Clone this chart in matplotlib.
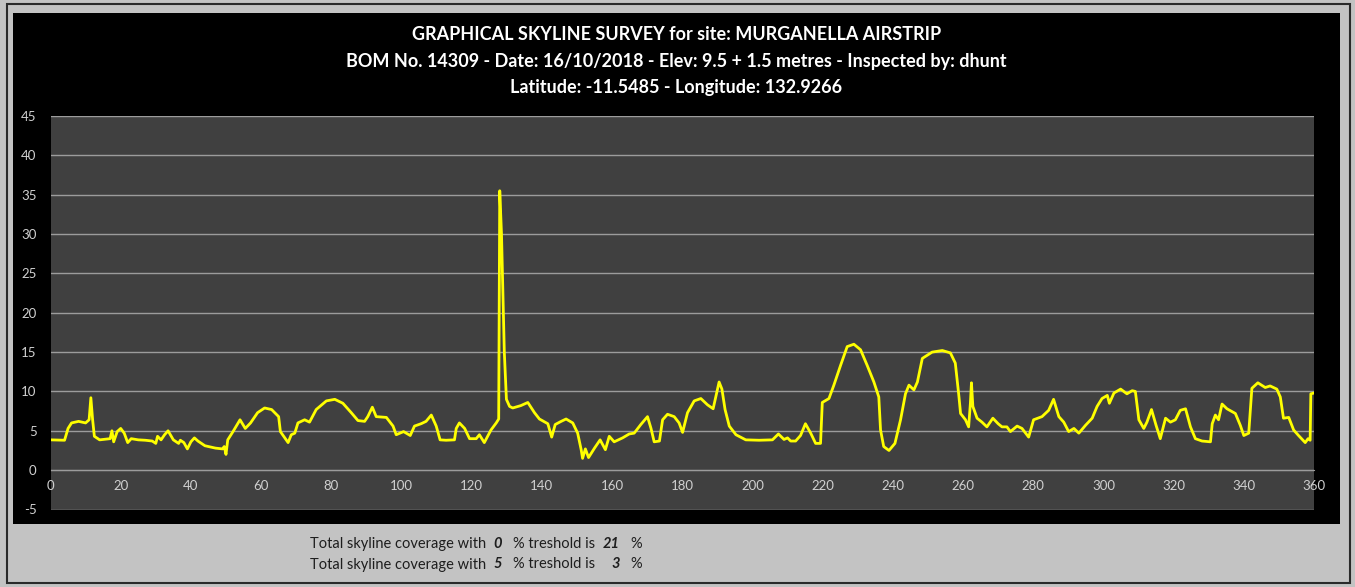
import matplotlib
matplotlib.use('Agg')
import matplotlib.pyplot as plt
from matplotlib.patches import Rectangle

plt.rcParams['font.family'] = ['Lato', 'DejaVu Sans']
plt.rcParams['axes.unicode_minus'] = False

# skyline survey: azimuth (deg) vs elevation (deg)
azimuth = [0, 4, 5, 6, 8, 10, 11, 11.5, 12, 12.5, 14, 17, 17.5, 18, 19, 20, 21, 22, 23, 25,
           27, 29, 30, 30.5, 31.5, 32.5, 33.5, 35, 36.5, 37, 38, 39, 40, 41, 42, 44, 47, 49, 49.5, 50,
           50.5, 52, 54, 55.5, 57, 59, 61, 63, 65, 65.5, 67.7, 68.6, 69.6, 70.5, 72.4, 73.8, 75.7, 78.6, 81, 83.3,
           85.7, 87.6, 89.5, 90.4, 91.7, 92.8, 95.7, 97.6, 98.5, 100.6, 102.5, 103.7, 105.6, 107, 108.5, 109.9, 111, 112.7, 115.1, 115.6,
           116.5, 118, 119.4, 121.3, 122.2, 123.6, 125.5, 127, 127.7, 128, 128.5, 129.3, 129.9, 130.8, 131.7, 134, 136, 137.9, 139.3, 141.7,
           142.8, 143.8, 145.5, 146.9, 148.8, 150.2, 151.2, 151.6, 152.4, 153.3, 155, 156.6, 158.1, 159.2, 160.6, 163, 164.9, 166.3, 168.2, 170.1,
           171.1, 172, 173.5, 174.4, 175.8, 177.7, 179.1, 180.1, 181.5, 183.4, 185.3, 187.2, 188.8, 189.6, 190.5, 191.3, 192.2, 193.4, 195.3, 198.1,
           201.9, 205.7, 207.4, 209, 210, 210.9, 212.3, 213.7, 215.1, 216.6, 218, 219.4, 219.9, 221.8, 223.2, 225.1, 227, 228.9, 230.8, 232.7,
           234.6, 236, 236.5, 237.4, 238.9, 240.6, 242.2, 243.6, 244.6, 246, 247, 248.4, 251.2, 254.1, 256.4, 257.8, 258.8, 259.3, 260.7, 261.6,
           262.1, 262.4, 262.8, 264, 265.4, 266.8, 268.5, 270, 271.1, 272.5, 273.5, 275.4, 276.8, 278.7, 280.1, 282.5, 284.4, 285.8, 287.3, 288.7,
           290.1, 291.6, 293, 294.9, 296.8, 298.2, 299.6, 301.1, 301.7, 303, 304.9, 306.7, 308.2, 309.1, 310.1, 311.5, 312.4, 313.7, 315, 316.2,
           317.7, 319.1, 320.5, 321.9, 323.4, 324.8, 326.2, 328.1, 330.5, 331, 331.9, 332.8, 333.8, 335.2, 337.6, 339, 340, 341.4, 342.3, 344,
           346.1, 347.5, 349.4, 350.4, 351.3, 352.8, 354.2, 355.6, 357.5, 358.3, 358.9, 359.1, 360]
elevation = [3.85, 3.8, 5.3, 6.0, 6.2, 6.0, 6.4, 9.2, 6.4, 4.3, 3.85, 4.0, 5.0, 3.6, 4.9, 5.3, 4.7, 3.5, 4.0, 3.85,
             3.8, 3.7, 3.4, 4.3, 3.85, 4.5, 5.0, 3.85, 3.4, 3.8, 3.5, 2.7, 3.6, 4.1, 3.7, 3.1, 2.8, 2.7, 3.0, 2.0,
             3.85, 4.9, 6.4, 5.3, 6.0, 7.3, 7.9, 7.7, 6.8, 4.9, 3.5, 4.5, 4.7, 6.0, 6.4, 6.1, 7.7, 8.8, 9.0, 8.5,
             7.3, 6.3, 6.2, 6.8, 8.0, 6.8, 6.7, 5.6, 4.5, 4.9, 4.4, 5.6, 5.9, 6.2, 7.0, 5.6, 3.85, 3.8, 3.85, 5.3,
             6.0, 5.3, 4.0, 4.0, 4.5, 3.5, 5.1, 6.0, 6.5, 35.5, 30.0, 15.0, 9.0, 8.1, 7.9, 8.2, 8.6, 7.3, 6.5, 5.9,
             4.2, 5.8, 6.2, 6.5, 6.0, 4.7, 2.6, 1.5, 2.7, 1.6, 2.8, 3.85, 2.6, 4.3, 3.6, 4.1, 4.6, 4.7, 5.8, 6.8,
             5.3, 3.6, 3.7, 6.4, 7.1, 6.8, 6.0, 4.8, 7.3, 8.8, 9.1, 8.3, 7.8, 9.4, 11.2, 10.3, 7.7, 5.6, 4.5, 3.85,
             3.8, 3.85, 4.6, 3.9, 4.1, 3.7, 3.7, 4.4, 5.9, 4.7, 3.4, 3.4, 8.6, 9.1, 10.8, 13.3, 15.7, 16.0, 15.3, 13.3,
             11.2, 9.3, 5.1, 3.0, 2.5, 3.4, 6.4, 9.7, 10.8, 10.2, 11.2, 14.2, 15.0, 15.2, 14.9, 13.6, 9.5, 7.2, 6.4, 5.5,
             8.5, 11.1, 8.1, 6.6, 6.1, 5.5, 6.6, 5.9, 5.5, 5.5, 4.9, 5.6, 5.3, 4.2, 6.4, 6.8, 7.6, 9.0, 6.8, 6.1,
             4.9, 5.3, 4.7, 5.7, 6.6, 8.1, 9.1, 9.5, 8.5, 9.8, 10.3, 9.7, 10.1, 10.0, 6.4, 5.3, 6.1, 7.7, 5.7, 4.0,
             6.6, 6.1, 6.4, 7.6, 7.8, 5.5, 4.0, 3.7, 3.6, 5.9, 7.0, 6.4, 8.4, 7.8, 7.2, 5.7, 4.4, 4.7, 10.4, 11.1,
             10.5, 10.7, 10.3, 9.3, 6.6, 6.7, 5.1, 4.4, 3.5, 4.0, 3.8, 9.7, 9.8]

x_ticks = list(range(0, 361, 20))
y_ticks = list(range(-5, 46, 5))

title_lines = ['GRAPHICAL SKYLINE SURVEY for site: MURGANELLA AIRSTRIP',
               'BOM No. 14309 - Date: 16/10/2018 - Elev: 9.5 + 1.5 metres - Inspected by: dhunt',
               'Latitude: -11.5485 - Longitude: 132.9266']
thresholds = ['0', '5']
coverage = ['21', '3']

W, H = 1355, 587
fig = plt.figure(figsize=(W / 100, H / 100), dpi=100)
fig.patch.set_facecolor('#c3c3c3')

# outer frame and black chart panel (behind the axes)
fig.add_artist(Rectangle((7 / W, 4 / H), 1343 / W, 579 / H, transform=fig.transFigure,
                         facecolor='none', edgecolor='#2a2a2a', lw=1.5, zorder=-10))
fig.add_artist(Rectangle((13 / W, 1 - 524 / H), 1327 / W, 511 / H, transform=fig.transFigure,
                         facecolor='black', edgecolor='none', zorder=-10))

ax = fig.add_axes([50.5 / W, 1 - 509.5 / H, 1263.5 / W, 393.5 / H])
ax.set_facecolor('#404040')
ax.plot(azimuth, elevation, color='#ffff00', lw=2, solid_joinstyle='round', solid_capstyle='round')

ax.set_xlim(0, 360)
ax.set_ylim(-5, 45)
ax.set_xticks(x_ticks)
ax.set_yticks(y_ticks)
for y in y_ticks:
    ax.axhline(y, color='#9c9c9c', lw=1, zorder=0)

for s in ['top', 'right', 'left']:
    ax.spines[s].set_visible(False)
ax.spines['bottom'].set_position(('data', 0))
ax.spines['bottom'].set_color('#9c9c9c')
ax.tick_params(axis='both', length=0, colors='#d0d0d0', labelsize=9.5)
ax.tick_params(axis='x', pad=7)
ax.tick_params(axis='y', pad=10)

for i, line in enumerate(title_lines):
    fig.text(676.5 / W, 1 - (35 + 26 * i) / H, line, ha='center', va='center',
             color='white', fontsize=13, fontweight='bold')

for i in range(2):
    yy = 1 - (544 + 20.5 * i) / H
    fig.text(310 / W, yy, 'Total skyline coverage with', ha='left', va='center',
             fontsize=10.5, color='#1e1e1e')
    fig.text(498 / W, yy, thresholds[i], ha='center', va='center', fontsize=10.5,
             color='#1e1e1e', fontweight='bold', style='italic')
    fig.text(513 / W, yy, '% treshold is', ha='left', va='center', fontsize=10.5, color='#1e1e1e')
    fig.text(620 / W, yy, coverage[i], ha='right', va='center', fontsize=10.5,
             color='#1e1e1e', fontweight='bold', style='italic')
    fig.text(630 / W, yy, '%', ha='left', va='center', fontsize=10.5, color='#1e1e1e')

fig.savefig('out.png', dpi=100, facecolor=fig.get_facecolor())
